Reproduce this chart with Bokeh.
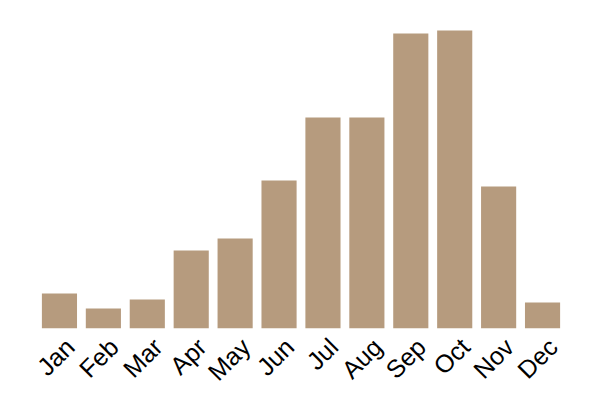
from bokeh.plotting import figure
from bokeh.models import Range1d, LinearAxis, FixedTicker
from bokeh.embed import file_html
from bokeh.resources import INLINE

months = ["Jan", "Feb", "Mar", "Apr", "May", "Jun", "Jul", "Aug", "Sep", "Oct", "Nov", "Dec"]
values = [35, 20, 29, 78, 90, 148, 211, 211, 295, 298, 142, 26]

n = len(months)
centers = [i + 0.5 for i in range(n)]  # category centres on a numeric axis

p = figure(x_range=Range1d(0, n), y_range=Range1d(0, 310),
           frame_width=527, frame_height=310, output_backend="svg",
           toolbar_location=None, min_border_left=37, min_border_right=20,
           min_border_top=18, min_border_bottom=10)
p.vbar(x=centers, top=values, width=0.8, color="#b69b7e", line_color=None)

p.xaxis.visible = False
p.yaxis.visible = False
p.xgrid.visible = False
p.ygrid.visible = False
p.outline_line_color = None

# label axis, slightly shifted so rotated labels sit like the reference
shift = 0.24
p.extra_x_ranges = {"lab": Range1d(-shift, n - shift)}
ax = LinearAxis(x_range_name="lab", ticker=FixedTicker(ticks=centers),
                major_label_overrides={c: m for c, m in zip(centers, months)})
ax.axis_line_color = None
ax.major_tick_line_color = None
ax.minor_tick_line_color = None
ax.major_label_orientation = 0.785
ax.major_label_text_font = "Liberation Sans"
ax.major_label_text_font_size = "25px"
ax.major_label_text_color = "#000000"
ax.major_label_standoff = 8
p.add_layout(ax, "below")

open("out.html", "w").write(file_html(p, INLINE))
